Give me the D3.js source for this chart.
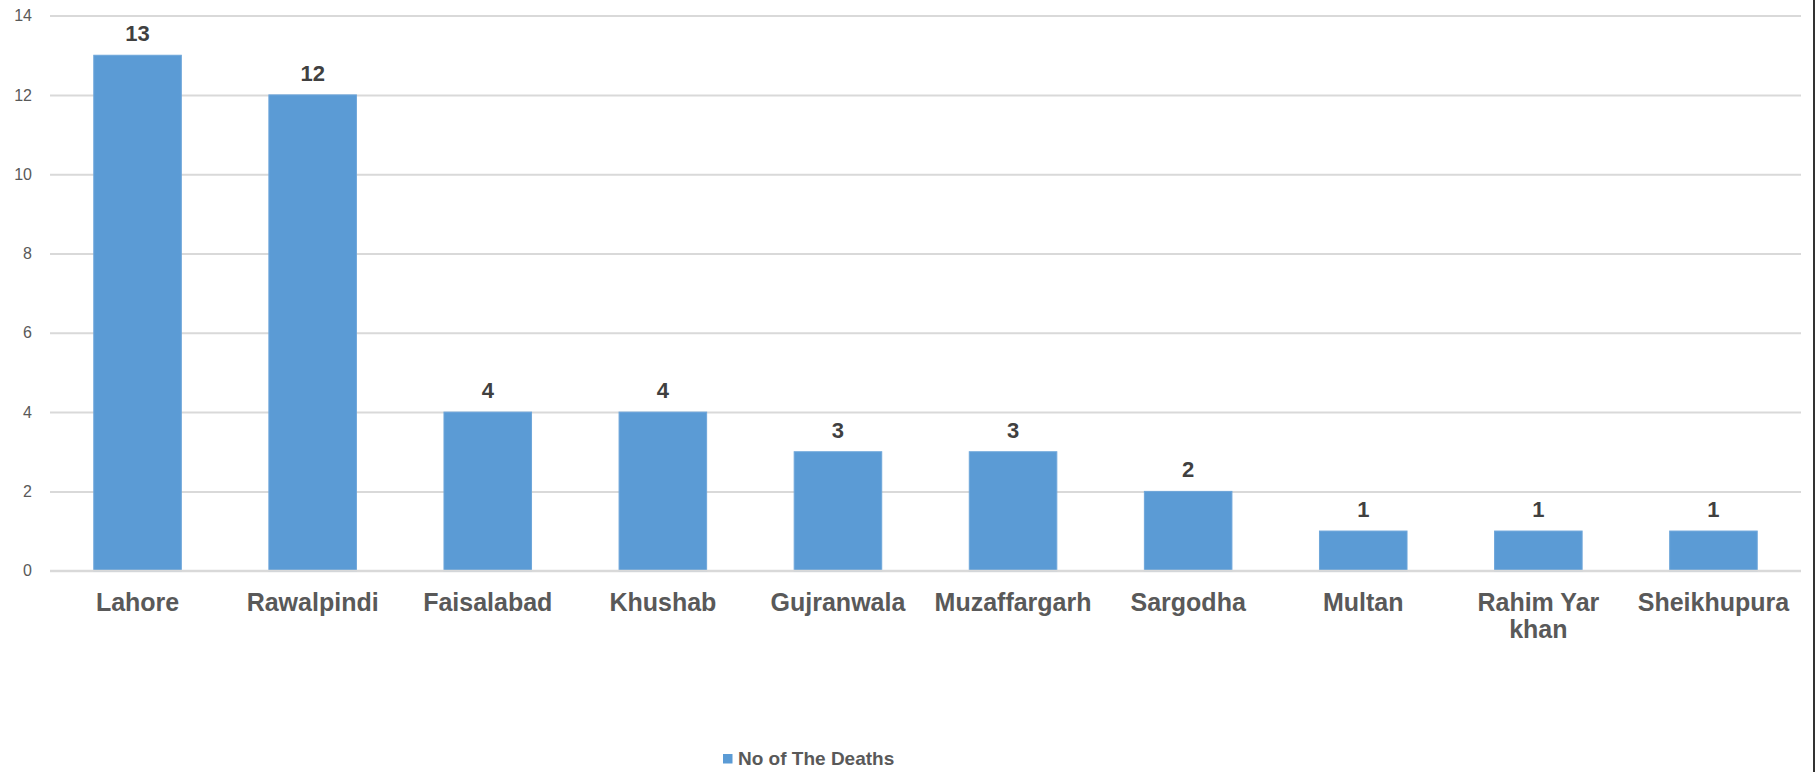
<!DOCTYPE html>
<html>
<head>
<meta charset="utf-8">
<script src="https://cdn.jsdelivr.net/npm/d3@7"></script>
<style>
  html, body { margin: 0; padding: 0; background: #fff; }
  svg { display: block; }
</style>
</head>
<body>
<svg id="chart" width="1818" height="772"></svg>
<script>
const categories = ["Lahore", "Rawalpindi", "Faisalabad", "Khushab", "Gujranwala", "Muzaffargarh", "Sargodha", "Multan", "Rahim Yar khan", "Sheikhupura"];
const deaths = [13, 12, 4, 4, 3, 3, 2, 1, 1, 1];
const yTicks = [0, 2, 4, 6, 8, 10, 12, 14];
const seriesName = "No of The Deaths";

const W = 1818, H = 772;
const margin = { left: 50, right: 17, top: 15.6, bottom: 201.3 };
const svg = d3.select("#chart");
const font = "'Liberation Sans', Arial, sans-serif";

const x = d3.scaleBand().domain(categories).range([margin.left, 1801]).paddingInner(0.5).paddingOuter(0.25);
const y = d3.scaleLinear().domain([0, 14]).range([570.7, 15.6]);

// gridlines
const grid = svg.append("g").call(d3.axisLeft(y).tickValues(yTicks).tickSize(-(1801 - margin.left)).tickFormat(""))
  .attr("transform", `translate(${margin.left},0)`);
grid.select(".domain").remove();
grid.selectAll("line").attr("stroke", "#d9d9d9").attr("stroke-width", 2);

// y tick labels
const yAxis = svg.append("g").attr("transform", `translate(${margin.left},0)`)
  .call(d3.axisLeft(y).tickValues(yTicks).tickSize(0).tickPadding(18));
yAxis.select(".domain").remove();
yAxis.selectAll("text").attr("font-family", font).attr("font-size", 16).attr("fill", "#595959");

// bars
svg.append("g").selectAll("rect").data(deaths).join("rect")
  .attr("x", (d, i) => x(categories[i]))
  .attr("y", d => y(d))
  .attr("width", x.bandwidth())
  .attr("height", d => y(0) - y(d))
  .attr("fill", "#5b9bd5")
  .attr("stroke", "#6ea6da")
  .attr("stroke-width", 1);

// zero line on top
svg.append("line").attr("x1", margin.left).attr("x2", 1801).attr("y1", y(0)).attr("y2", y(0))
  .attr("stroke", "#d9d9d9").attr("stroke-width", 2);

// value labels
svg.append("g").selectAll("text").data(deaths).join("text")
  .attr("x", (d, i) => x(categories[i]) + x.bandwidth() / 2)
  .attr("y", d => y(d) - 14)
  .attr("text-anchor", "middle")
  .attr("font-family", font).attr("font-size", 22).attr("font-weight", "bold")
  .attr("fill", "#404040")
  .text(d => d);

// category labels with wrapping
const xAxis = svg.append("g").attr("transform", `translate(0,${y(0)})`)
  .call(d3.axisBottom(x).tickSize(0).tickPadding(0));
xAxis.select(".domain").remove();
xAxis.selectAll("text").attr("font-family", font).attr("font-size", 25).attr("font-weight", "bold")
  .attr("fill", "#595959").attr("dy", null).attr("y", 0)
  .each(function(d) {
    const t = d3.select(this);
    const words = d.split(/\s+/);
    t.text(null);
    const maxW = x.step() - 2;
    let line = [], lines = [];
    const tmp = t.append("tspan");
    words.forEach(w => {
      const test = line.concat([w]).join(" ");
      tmp.text(test);
      if (tmp.node().getComputedTextLength() > maxW && line.length) {
        lines.push(line.join(" "));
        line = [w];
      } else line.push(w);
    });
    lines.push(line.join(" "));
    tmp.remove();
    lines.forEach((l, i) => {
      t.append("tspan").attr("x", 0).attr("y", 40 + i * 27).text(l);
    });
  });

// legend
const lg = svg.append("g").attr("transform", "translate(723,754)");
lg.append("rect").attr("width", 9.5).attr("height", 9.5).attr("fill", "#5b9bd5");
lg.append("text").attr("x", 15).attr("y", 11.3).attr("font-family", font).attr("font-size", 19)
  .attr("font-weight", "bold").attr("fill", "#595959").text(seriesName);

// right border
svg.append("line").attr("x1", 1814).attr("x2", 1814).attr("y1", 0).attr("y2", H)
  .attr("stroke", "#333").attr("stroke-width", 2);
</script>
</body>
</html>
